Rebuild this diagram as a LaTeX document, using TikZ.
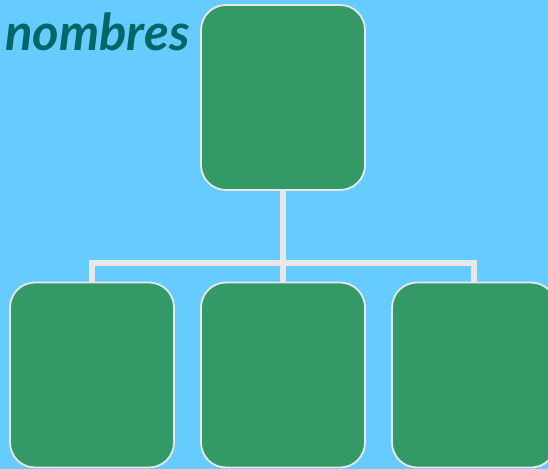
\documentclass[tikz,border=0pt]{standalone}
\usepackage{fontspec}
\newfontfamily\titlefont{Lato}
\usepackage{tikz}
\usetikzlibrary{positioning}
\definecolor{skyblue}{RGB}{102,204,255}
\definecolor{boxgreen}{RGB}{51,153,102}
\definecolor{linegray}{RGB}{232,232,232}
\definecolor{titleteal}{RGB}{0,102,102}
\tikzset{
  orgbox/.style={rectangle,rounded corners=25bp,minimum width=164bp,minimum height=185bp,fill=boxgreen,draw=linegray,line width=1.8bp},
  orgline/.style={draw=linegray,line width=6bp},
}

\begin{document}
\begin{tikzpicture}[x=1bp,y=-1bp]
        \useasboundingbox (0,0) rectangle (548,469);
        \clip (0,0) rectangle (548,469);
        \fill [skyblue] (0,0) rectangle (548,469);
        \node (title) at (5,51) [anchor=base west,inner sep=0pt,text=titleteal,font=\titlefont\fontsize{51}{51}\selectfont\bfseries\itshape] {nombres};
        \node (root) at (283,97.5) [orgbox] {};
        \node (c1) at (92,375) [orgbox] {};
        \node (c2) at (283,375) [orgbox] {};
        \node (c3) at (474,375) [orgbox] {};
        \coordinate (bar) at (283,263);
        \draw [orgline] (root.south) -- (bar);
        \draw [orgline] (c1.north) |- (bar) -| (c3.north);
        \draw [orgline] (bar) -- (c2.north);
      \end{tikzpicture}
\end{document}
